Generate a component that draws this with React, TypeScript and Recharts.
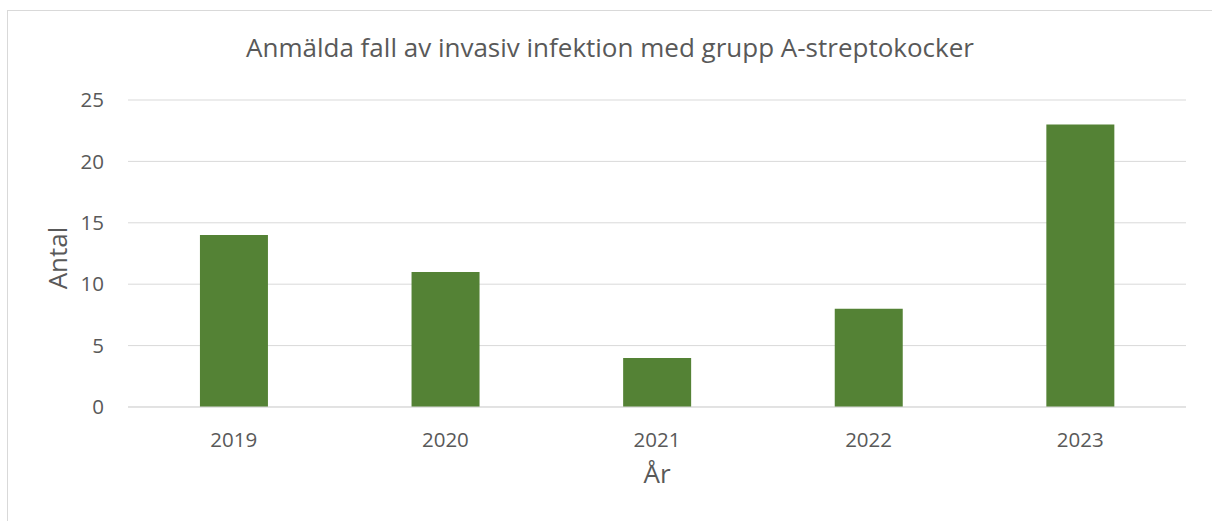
import { Bar, BarChart, CartesianGrid, XAxis, YAxis } from "recharts";

// Anmälda fall per år
const YEARS = ["2019", "2020", "2021", "2022", "2023"];
const CASES = [14, 11, 4, 8, 23];
const Y_TICKS = [0, 5, 10, 15, 20, 25];

const data = YEARS.map((year, i) => ({ year, antal: CASES[i] }));

const FONT = "'Open Sans', sans-serif";
const TEXT = "#595959";

export default function App() {
  return (
    <div
      style={{
        position: "absolute",
        left: 0,
        top: 0,
        width: 1212,
        height: 521,
        overflow: "hidden",
        background: "#fff",
        fontFamily: FONT,
      }}
    >
      {/* chart frame, only left and top edges are inside the picture */}
      <div
        style={{
          position: "absolute",
          left: 7,
          top: 10,
          width: 1300,
          height: 600,
          borderLeft: "1px solid #d9d9d9",
          borderTop: "1px solid #d9d9d9",
        }}
      />
      <div
        style={{
          position: "absolute",
          left: 0,
          top: 29,
          width: 1220,
          textAlign: "center",
          fontSize: 26,
          lineHeight: "normal",
          color: TEXT,
          whiteSpace: "nowrap",
        }}
      >
        Anmälda fall av invasiv infektion med grupp A-streptokocker
      </div>
      <div style={{ position: "absolute", left: 0, top: 0 }}>
        <BarChart
          width={1212}
          height={521}
          data={data}
          margin={{ top: 100, right: 26, bottom: 0, left: 0 }}
          barCategoryGap="34%"
        >
          <CartesianGrid vertical={false} stroke="#d9d9d9" strokeWidth={1} />
          <YAxis
            width={128}
            domain={[0, 25]}
            ticks={Y_TICKS}
            axisLine={false}
            tickLine={false}
            tickSize={0}
            tickMargin={24}
            tick={{ fontSize: 20.5, fill: TEXT, fontFamily: FONT }}
          />
          <XAxis
            dataKey="year"
            height={114}
            axisLine={{ stroke: "#d9d9d9" }}
            tickLine={false}
            tickSize={0}
            tickMargin={25}
            tick={{ fontSize: 20.5, fill: TEXT, fontFamily: FONT }}
            label={{
              value: "År",
              position: "insideTop",
              offset: 58,
              style: { fontSize: 26, fill: TEXT, fontFamily: FONT },
            }}
          />
          <Bar dataKey="antal" fill="#548235" isAnimationActive={false} />
        </BarChart>
      </div>
      {/* y-axis title */}
      <div
        style={{
          position: "absolute",
          left: 57,
          top: 258,
          transform: "translate(-50%, -50%) rotate(-90deg)",
          fontSize: 26,
          color: TEXT,
          whiteSpace: "nowrap",
          lineHeight: 1,
        }}
      >
        Antal
      </div>
    </div>
  );
}
